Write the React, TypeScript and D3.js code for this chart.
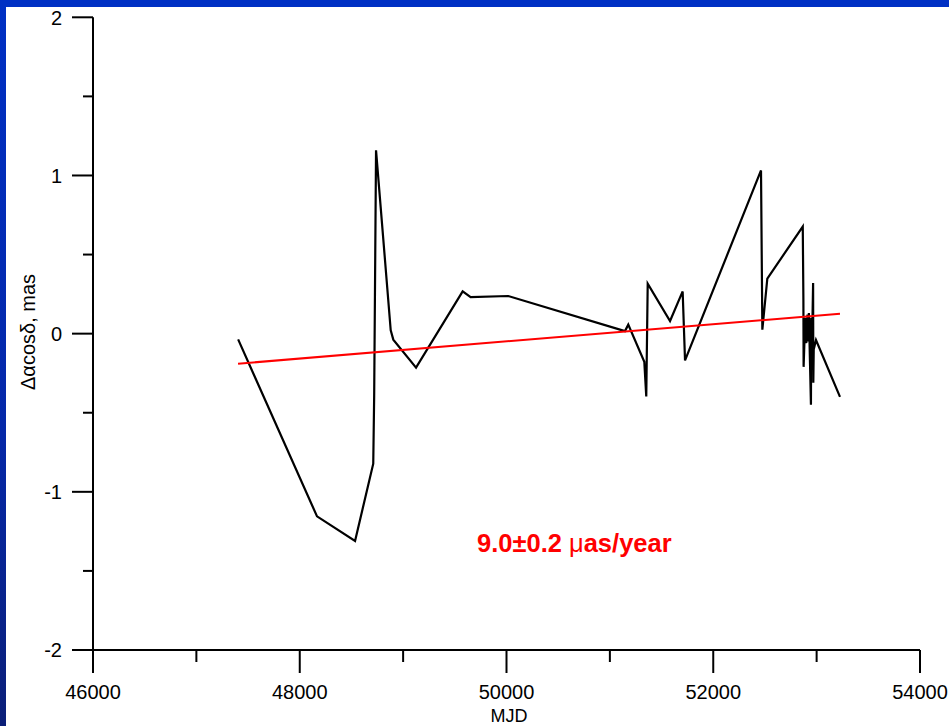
import React from "react";
import * as d3 from "d3";

// Residual series: MJD vs Δα·cosδ (mas)
const mjd = [
  47404, 48167, 48535, 48711, 48720, 48738, 48880, 48905, 49125, 49576,
  49653, 50017, 51146, 51178, 51333, 51352, 51366, 51582, 51704, 51727,
  52462, 52475, 52523, 52866, 52872, 52874, 52890, 52900, 52912, 52918,
  52925, 52945, 52948, 52952, 52966, 52968, 52972, 52994, 53226,
];
const dra = [
  -0.036, -1.155, -1.311, -0.822, -0.39, 1.159, 0.021, -0.038, -0.215, 0.267,
  0.231, 0.238, 0.016, 0.057, -0.178, -0.397, 0.316, 0.08, 0.267, -0.169,
  1.032, 0.025, 0.348, 0.677, 0.21, -0.21, 0.1, -0.06, 0.12, -0.05,
  0.13, -0.45, 0.1, -0.2, 0.32, -0.31, -0.1, -0.04, -0.4,
];

// Linear trend endpoints
const trendMjd = [47403, 53226];
const trendVal = [-0.19, 0.126];

const xMajorTicks = [46000, 48000, 50000, 52000, 54000];
const xMinorTicks = [47000, 49000, 51000, 53000];
const yMajorTicks = [-2, -1, 0, 1, 2];
const yMinorTicks = [-1.5, -0.5, 0.5, 1.5];

const W = 949;
const H = 726;

export default function App() {
  const x = d3.scaleLinear().domain([46000, 54000]).range([93, 920]);
  const y = d3.scaleLinear().domain([-2, 2]).range([650, 17.3]);

  const line = d3
    .line<number>()
    .x((_, i) => x(mjd[i]))
    .y((d) => y(d));
  const trend = d3
    .line<number>()
    .x((_, i) => x(trendMjd[i]))
    .y((d) => y(d));

  const font = "'Liberation Sans', Arial, sans-serif";
  const x0 = x(46000);
  const yBase = y(-2);

  return (
    <svg
      width={W}
      height={H}
      style={{ position: "absolute", left: 0, top: 0, display: "block" }}
    >
      <defs>
        <linearGradient id="frameGrad" x1="0" y1="0" x2="0" y2="1">
          <stop offset="0" stopColor="#0030c4" />
          <stop offset="0.6" stopColor="#0528a8" />
          <stop offset="1" stopColor="#0b1f78" />
        </linearGradient>
      </defs>
      <rect x={0} y={0} width={W} height={H} fill="#ffffff" />
      <rect x={0} y={0} width={W} height={7} fill="#0030c4" />
      <rect x={0} y={0} width={6} height={H} fill="url(#frameGrad)" />

      {/* axes */}
      <g stroke="#000" strokeWidth={2} fill="none">
        <line x1={x0} y1={y(2)} x2={x0} y2={yBase} />
        <line x1={x0} y1={yBase} x2={x(54000)} y2={yBase} />
        {xMajorTicks.map((t) => (
          <line key={"xM" + t} x1={x(t)} y1={yBase} x2={x(t)} y2={yBase + 23} />
        ))}
        {xMinorTicks.map((t) => (
          <line key={"xm" + t} x1={x(t)} y1={yBase} x2={x(t)} y2={yBase + 12} />
        ))}
        {yMajorTicks.map((t) => (
          <line key={"yM" + t} x1={x0 - 21} y1={y(t)} x2={x0} y2={y(t)} />
        ))}
        {yMinorTicks.map((t) => (
          <line key={"ym" + t} x1={x0 - 10} y1={y(t)} x2={x0} y2={y(t)} />
        ))}
      </g>

      <g fontFamily={font} fontSize={20} fill="#000">
        {xMajorTicks.map((t) => (
          <text key={"xl" + t} x={x(t)} y={699} textAnchor="middle">
            {t}
          </text>
        ))}
        {yMajorTicks.map((t) => (
          <text key={"yl" + t} x={62} y={y(t)} dy="0.36em" textAnchor="end">
            {t}
          </text>
        ))}
      </g>

      <text
        x={509}
        y={722}
        textAnchor="middle"
        fontFamily={font}
        fontSize={18}
        fill="#000"
      >
        MJD
      </text>
      <text
        transform="translate(35,332) rotate(-90)"
        textAnchor="middle"
        fontFamily={font}
        fontSize={20}
        fill="#000"
      >
        Δαcosδ, mas
      </text>

      {/* residuals */}
      <path d={line(dra) ?? ""} fill="none" stroke="#000" strokeWidth={2.2} strokeLinejoin="miter" />
      {/* trend */}
      <path d={trend(trendVal) ?? ""} fill="none" stroke="#ff0000" strokeWidth={2} />

      <text
        x={477}
        y={552}
        fontFamily={font}
        fontSize={25.5}
        fontWeight="bold"
        fill="#ff0000"
      >
        9.0±0.2 <tspan fontWeight="normal">μ</tspan>as/year
      </text>
    </svg>
  );
}
